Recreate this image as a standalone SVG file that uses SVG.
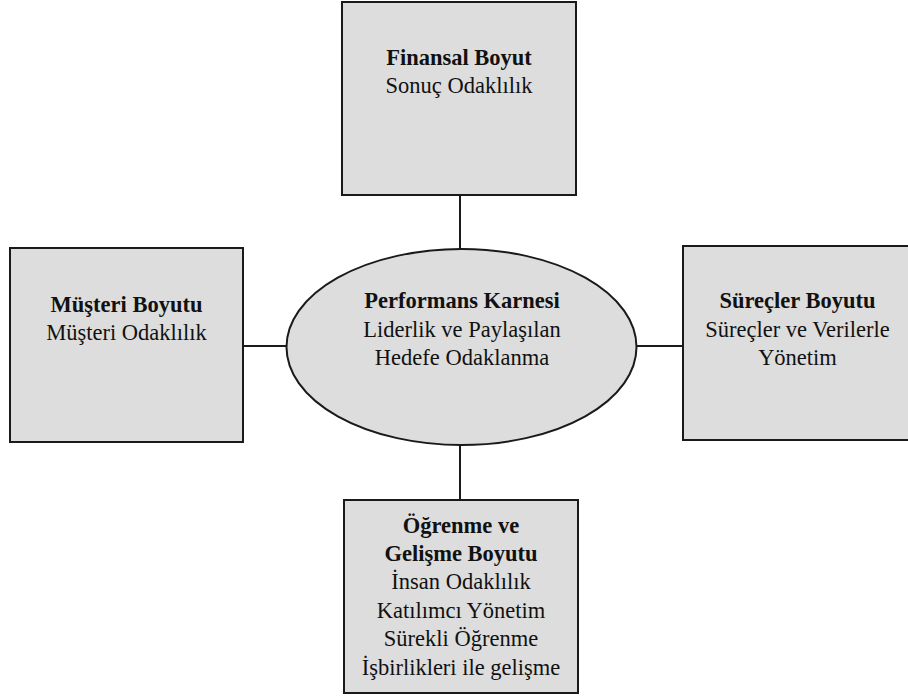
<svg xmlns="http://www.w3.org/2000/svg" width="908" height="697" viewBox="0 0 908 697">
  <style>
    .box { fill: #dddddd; stroke: #1a1a1a; stroke-width: 2; }
    .link { stroke: #1a1a1a; stroke-width: 2; fill: none; }
    text { font-family: "Liberation Serif", "Times New Roman", serif; font-size: 22.5px; fill: #111111; text-anchor: middle; }
    .title { font-weight: bold; }
  </style>
  <rect width="908" height="697" fill="#ffffff"/>

  <!-- connectors between the centre and the four dimensions -->
  <g id="connectors">
    <line class="link" x1="460" y1="195" x2="460" y2="249"/>
    <line class="link" x1="243" y1="346" x2="287" y2="346"/>
    <line class="link" x1="636" y1="346" x2="683" y2="346"/>
    <line class="link" x1="460" y1="445" x2="460" y2="500"/>
  </g>

  <g id="finansal">
    <rect class="box" x="342" y="2" width="234" height="193"/>
    <text class="title" x="459" y="65">Finansal Boyut</text>
    <text x="459" y="93">Sonuç Odaklılık</text>
  </g>

  <g id="musteri">
    <rect class="box" x="10" y="248" width="233" height="194"/>
    <text class="title" x="126.5" y="312">Müşteri Boyutu</text>
    <text x="126.5" y="340">Müşteri Odaklılık</text>
  </g>

  <g id="karne">
    <ellipse class="box" cx="461.5" cy="347" rx="175" ry="98"/>
    <text class="title" x="462" y="308">Performans Karnesi</text>
    <text x="462" y="337">Liderlik ve Paylaşılan</text>
    <text x="462" y="365">Hedefe Odaklanma</text>
  </g>

  <g id="surecler">
    <rect class="box" x="683" y="246" width="229" height="194"/>
    <text class="title" x="797.5" y="308">Süreçler Boyutu</text>
    <text x="797.5" y="337">Süreçler ve Verilerle</text>
    <text x="797.5" y="365">Yönetim</text>
  </g>

  <g id="ogrenme">
    <rect class="box" x="344" y="500" width="234" height="193"/>
    <text class="title" x="461" y="533">Öğrenme ve</text>
    <text class="title" x="461" y="561">Gelişme Boyutu</text>
    <text x="461" y="589">İnsan Odaklılık</text>
    <text x="461" y="618">Katılımcı Yönetim</text>
    <text x="461" y="646">Sürekli Öğrenme</text>
    <text x="461" y="675">İşbirlikleri ile gelişme</text>
  </g>
</svg>
